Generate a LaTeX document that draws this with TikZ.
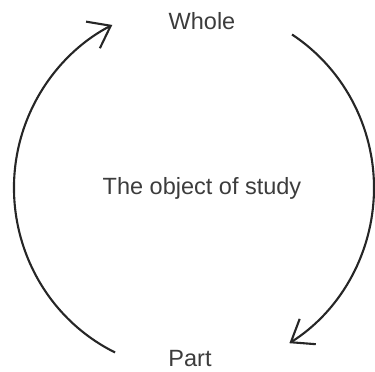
\documentclass[tikz,border=0pt]{standalone}
\usepackage{fontspec}
\setmainfont{Liberation Sans}
\usepackage{xcolor}
\usetikzlibrary{arrows.meta}

\definecolor{labelgray}{HTML}{3C3C3C}
\definecolor{arcgray}{HTML}{262626}

\begin{document}
\begin{tikzpicture}[
  x=1pt,
  y=1pt,
  every node/.style={font=\rmfamily\fontsize{23.5}{28}\selectfont, text=labelgray, inner sep=0pt},
  cyclearc/.style={draw=arcgray, line width=2.1pt, -{Straight Barb[length=20pt,width=30pt]}},
]
\path[use as bounding box] (0,0) rectangle (375,372);

% Centre of the cycle.
\coordinate (mid) at (194,184);

% Labels.
\node[anchor=base] (whole) at (202,342) {Whole};
\node[anchor=base] (part) at (190,5) {Part};
\node[anchor=base] (object) at (202,177) {The object of study};

% Part up to whole, on the left.
\draw[cyclearc] ([shift={(244:180 and 183)}]mid) arc[start angle=244, end angle=117, x radius=180, y radius=183];

% Whole down to part, on the right.
\draw[cyclearc] ([shift={(57:180 and 183)}]mid) arc[start angle=57, end angle=-58, x radius=180, y radius=183];

\end{tikzpicture}
\end{document}
